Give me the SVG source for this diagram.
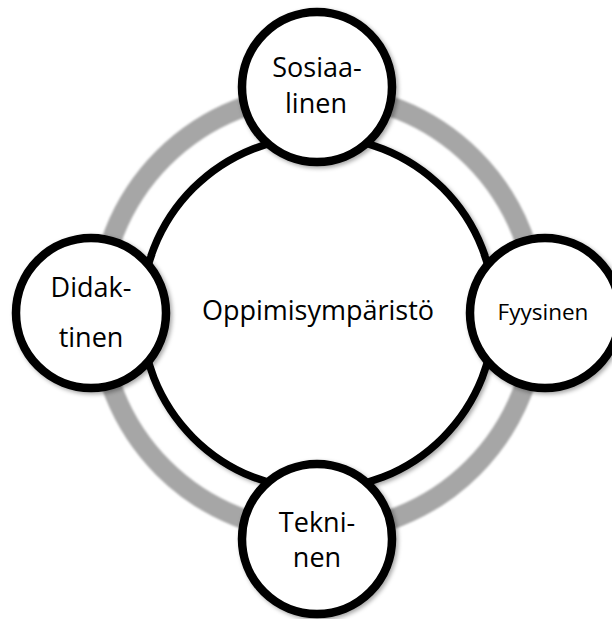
<svg xmlns="http://www.w3.org/2000/svg" width="612" height="619" viewBox="0 0 612 619">
  <defs>
    <filter id="soft" x="-20%" y="-20%" width="140%" height="140%">
      <feGaussianBlur stdDeviation="1.2"/>
    </filter>
    <filter id="shadow" x="-20%" y="-20%" width="140%" height="140%">
      <feDropShadow dx="2" dy="2" stdDeviation="2" flood-color="#000" flood-opacity="0.35"/>
    </filter>
  </defs>
  <style>
    .node { fill: #ffffff; stroke: #000000; stroke-width: 8.5; }
    .lbl { font-family: "Open Sans", "Noto Sans", "Liberation Sans", sans-serif; font-size: 27px; fill: #000000; text-anchor: middle; }
    .small { font-size: 22.5px; }
  </style>
  <rect width="612" height="619" fill="#ffffff"/>
  <g id="connectors">
    <circle id="outer-ring" cx="318" cy="313" r="219" fill="none" stroke="#a6a6a6" stroke-width="20" filter="url(#soft)"/>
    <circle id="inner-ring" cx="318" cy="313" r="176.5" fill="#ffffff" stroke="#000000" stroke-width="7.5" filter="url(#shadow)"/>
  </g>
  <g id="center">
    <text class="lbl" x="318" y="320">Oppimisympäristö</text>
  </g>
  <g id="sosiaalinen">
    <circle class="node" cx="317" cy="87" r="75" filter="url(#shadow)"/>
    <text class="lbl" x="317" y="77">Sosiaa-</text>
    <text class="lbl" x="316" y="113">linen</text>
  </g>
  <g id="didaktinen">
    <circle class="node" cx="91" cy="313" r="75" filter="url(#shadow)"/>
    <text class="lbl" x="91" y="297">Didak-</text>
    <text class="lbl" x="91" y="347">tinen</text>
  </g>
  <g id="fyysinen">
    <circle class="node" cx="545" cy="313" r="75" filter="url(#shadow)"/>
    <text class="lbl small" x="543" y="320">Fyysinen</text>
  </g>
  <g id="tekninen">
    <circle class="node" cx="317" cy="539" r="75" filter="url(#shadow)"/>
    <text class="lbl" x="317" y="532">Tekni-</text>
    <text class="lbl" x="317" y="567">nen</text>
  </g>
</svg>
